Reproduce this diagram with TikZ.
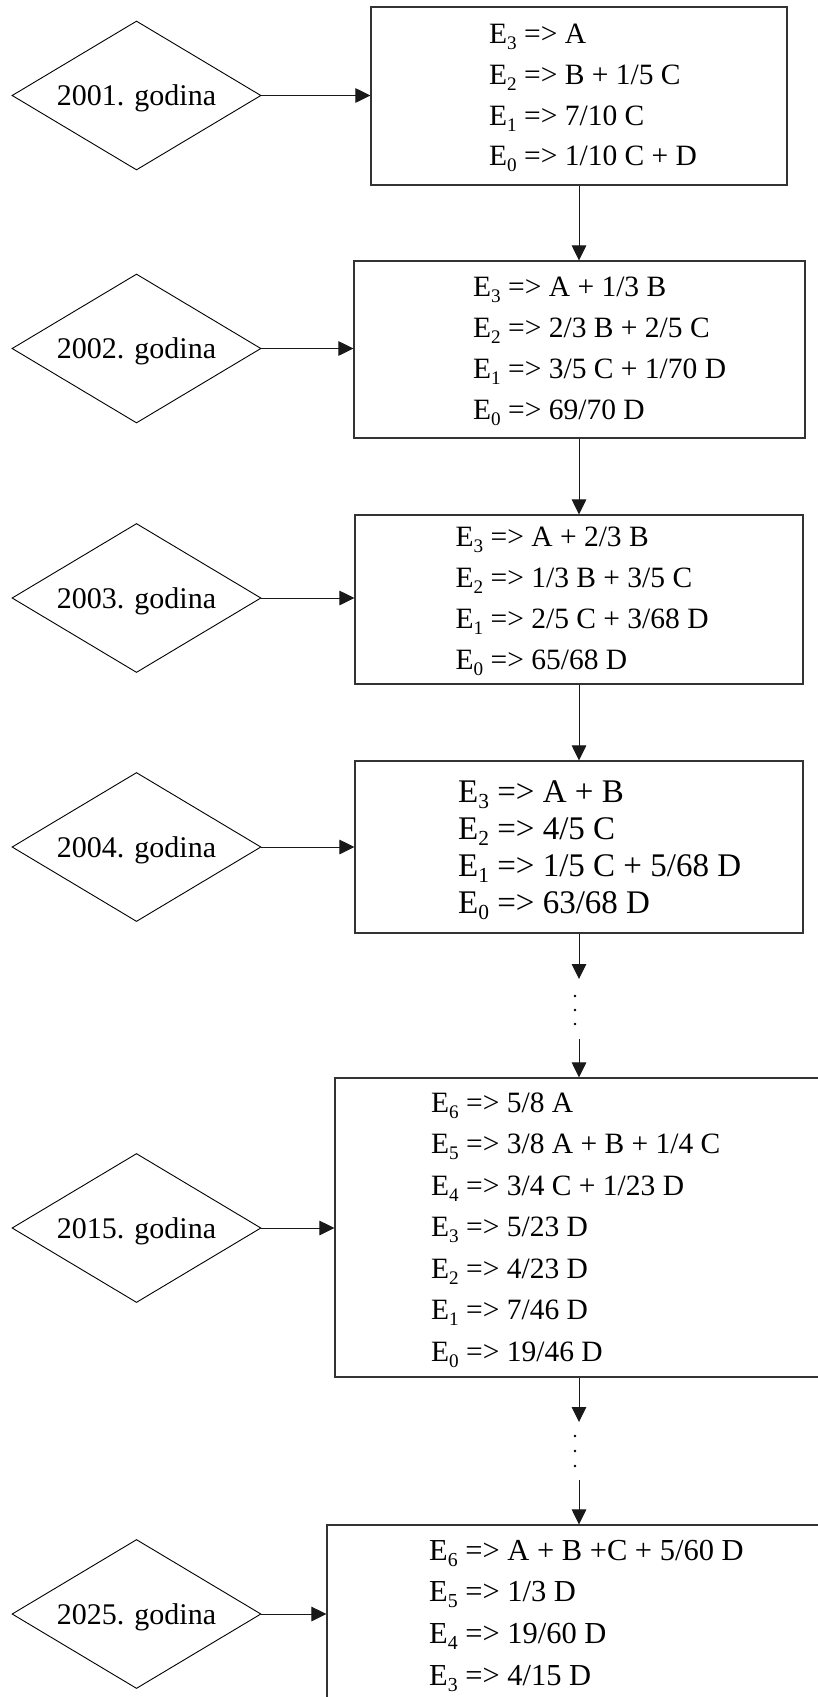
\documentclass[tikz,border=0pt]{standalone}
\usepackage{fontspec}
\setmainfont{Liberation Serif}
\usepackage{graphicx}
\usetikzlibrary{shapes.geometric,arrows.meta}
\newcommand\ix[1]{\raisebox{-0.2em}{\scalebox{0.65}{#1}}}
\newcommand\boxtext[4]{\fontsize{#1}{#2}\selectfont\scalebox{#3}[1]{\begin{tabular}[t]{@{}l@{}}#4\end{tabular}}}
\tikzset{
  yearbox/.style={draw=black!80, line width=1.1pt, rectangle, inner sep=0pt},
  yeardiam/.style={draw=black, line width=0.9pt, diamond, aspect=1.67, inner sep=0pt,
     minimum width=249pt, minimum height=149pt, text depth=0pt,
     font=\fontsize{30}{36}\selectfont},
  linetext/.style={inner sep=0pt, anchor=base west},
  arr/.style={draw=black!90, line width=1pt, -{Triangle[length=15pt,width=14.5pt]}},
  dotmark/.style={circle, fill=black, inner sep=0pt, minimum size=2.6pt}
}
\begin{document}
\begin{tikzpicture}[x=1pt,y=-1pt]
\useasboundingbox (0,0) rectangle (818,1697);
\clip (0,0) rectangle (818,1697);
\fill[white] (0,0) rectangle (818,1697);

% boxes
\node[yearbox, minimum width=416pt, minimum height=178pt] (b1) at (579,96) {};
\node[yearbox, minimum width=451pt, minimum height=177pt] (b2) at (579.5,349.5) {};
\node[yearbox, minimum width=448pt, minimum height=169pt] (b3) at (579,599.5) {};
\node[yearbox, minimum width=448pt, minimum height=172pt] (b4) at (579,847) {};
\node[yearbox, minimum width=495pt, minimum height=299pt] (b5) at (582.5,1227.5) {};
\node[yearbox, minimum width=503pt, minimum height=185pt] (b6) at (578.5,1617.5) {};

% diamonds
\node[yeardiam] (d1) at (136.5,95.5) {2001. godina};
\node[yeardiam] (d2) at (136.5,348.5) {2002. godina};
\node[yeardiam] (d3) at (136.5,598) {2003. godina};
\node[yeardiam] (d4) at (136.5,847) {2004. godina};
\node[yeardiam] (d5) at (136.5,1228) {2015. godina};
\node[yeardiam] (d6) at (136.5,1614) {2025. godina};

% texts
\node[linetext] (t1) at (489,43.5) {\boxtext{29.5}{40.8}{1.0}{%
E\ix{3} => A\\
E\ix{2} => B + 1/5 C\\
E\ix{1} => 7/10 C\\
E\ix{0} => 1/10 C + D}};
\node[linetext] (t2) at (473,296.4) {\boxtext{29.5}{41.1}{1.0}{%
E\ix{3} => A + 1/3 B\\
E\ix{2} => 2/3 B + 2/5 C\\
E\ix{1} => 3/5 C + 1/70 D\\
E\ix{0} => 69/70 D}};
\node[linetext] (t3) at (455.5,546.3) {\boxtext{29.5}{41.1}{1.0}{%
E\ix{3} => A + 2/3 B\\
E\ix{2} => 1/3 B + 3/5 C\\
E\ix{1} => 2/5 C + 3/68 D\\
E\ix{0} => 65/68 D}};
\node[linetext] (t4) at (458,802) {\boxtext{33}{37.1}{1.0}{%
E\ix{3} => A + B\\
E\ix{2} => 4/5 C\\
E\ix{1} => 1/5 C + 5/68 D\\
E\ix{0} => 63/68 D}};
\node[linetext] (t5) at (431,1112.2) {\boxtext{29.5}{41.5}{1.0}{%
E\ix{6} => 5/8 A\\
E\ix{5} => 3/8 A + B + 1/4 C\\
E\ix{4} => 3/4 C + 1/23 D\\
E\ix{3} => 5/23 D\\
E\ix{2} => 4/23 D\\
E\ix{1} => 7/46 D\\
E\ix{0} => 19/46 D}};
\node[linetext] (t6) at (429,1560) {\boxtext{30.5}{41.7}{1.0}{%
E\ix{6} => A + B +C + 5/60 D\\
E\ix{5} => 1/3 D\\
E\ix{4} => 19/60 D\\
E\ix{3} => 4/15 D}};

% horizontal connectors
\draw[arr] (d1.east) -- (d1.east -| b1.west);
\draw[arr] (d2.east) -- (d2.east -| b2.west);
\draw[arr] (d3.east) -- (d3.east -| b3.west);
\draw[arr] (d4.east) -- (d4.east -| b4.west);
\draw[arr] (d5.east) -- (d5.east -| b5.west);
\draw[arr] (d6.east) -- (d6.east -| b6.west);

% vertical connectors
\coordinate (c1) at (579,979);
\coordinate (c2) at (579,1039);
\coordinate (c3) at (579,1422);
\coordinate (c4) at (579,1480);
\draw[arr] (b1.south) -- (b1.south |- b2.north);
\draw[arr] (c1 |- b2.south) -- (c1 |- b3.north);
\draw[arr] (c1 |- b3.south) -- (c1 |- b4.north);
\draw[arr] (c1 |- b4.south) -- (c1);
\draw[arr] (c2) -- (c2 |- b5.north);
\draw[arr] (c3 |- b5.south) -- (c3);
\draw[arr] (c4) -- (c4 |- b6.north);

% ellipsis dots
\node[dotmark] (p1) at (575,996) {};
\node[dotmark] (p2) at (575,1010) {};
\node[dotmark] (p3) at (575,1024) {};
\node[dotmark] (p4) at (575,1436) {};
\node[dotmark] (p5) at (575,1451) {};
\node[dotmark] (p6) at (575,1466) {};
\end{tikzpicture}
\end{document}
